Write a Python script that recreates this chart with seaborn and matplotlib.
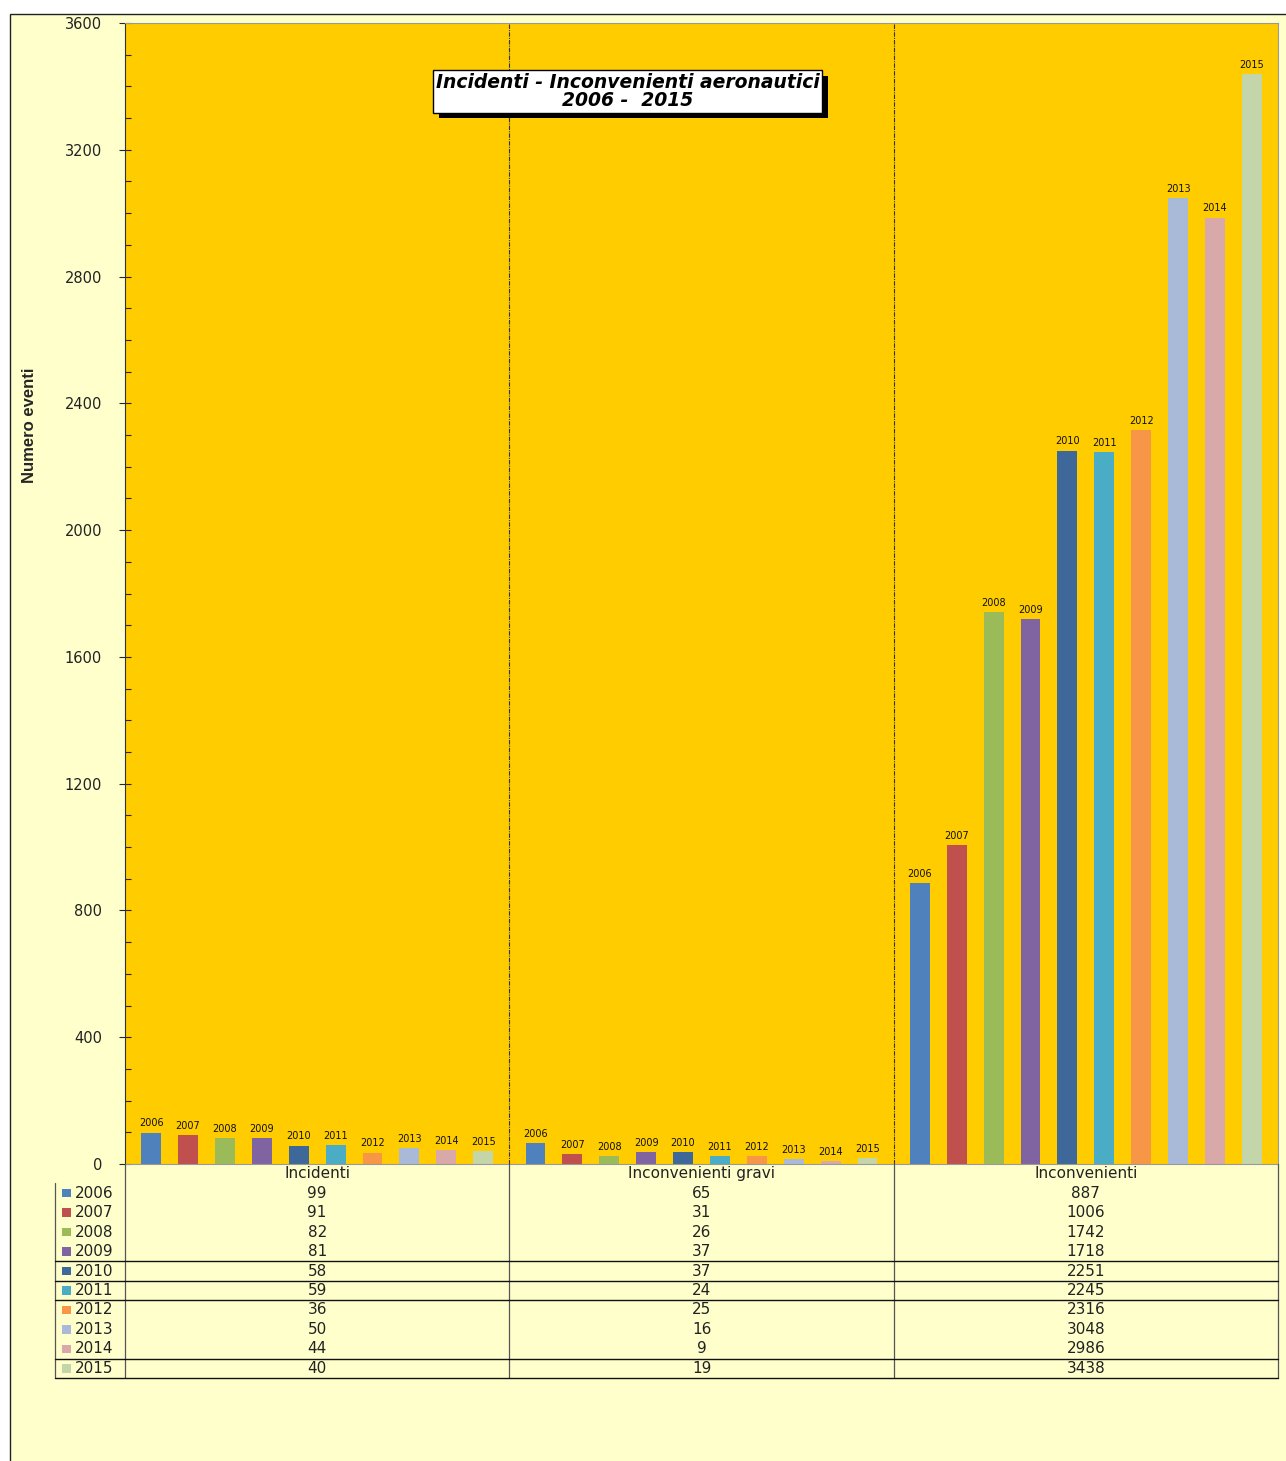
import numpy as np
import pandas as pd
import seaborn as sns
import matplotlib.pyplot as plt
import matplotlib.patheffects as pe
from matplotlib.ticker import MultipleLocator
from matplotlib.patches import Rectangle

# dati
categorie = ['Incidenti', 'Inconvenienti gravi', 'Inconvenienti']
anni = ['2006', '2007', '2008', '2009', '2010', '2011', '2012', '2013', '2014', '2015']
incidenti = [99, 91, 82, 81, 58, 59, 36, 50, 44, 40]
inconvenienti_gravi = [65, 31, 26, 37, 37, 24, 25, 16, 9, 19]
inconvenienti = [887, 1006, 1742, 1718, 2251, 2245, 2316, 3048, 2986, 3438]
colori = ['#4F81BD', '#C0504D', '#9BBB59', '#8064A2', '#3E6899',
          '#4BACC6', '#F79646', '#A9BAD8', '#D9A8A8', '#C4D5A9']

serie = {'Incidenti': incidenti, 'Inconvenienti gravi': inconvenienti_gravi,
         'Inconvenienti': inconvenienti}
righe = []
for cat in categorie:
    for anno, v in zip(anni, serie[cat]):
        righe.append({'categoria': cat, 'anno': anno, 'valore': v})
df = pd.DataFrame(righe)

sns.set_style('white')
plt.rcParams['font.family'] = ['DejaVu Sans']

W, H = 1286, 1461
fig = plt.figure(figsize=(W / 100, H / 100), dpi=100, facecolor='white')

# cornice esterna (sotto a tutto)
fig.patches.append(Rectangle((10 / W, -0.01), 1.0, 1 - 14 / H + 0.01,
                             transform=fig.transFigure, facecolor='#FFFFCC',
                             edgecolor='#222222', lw=1.0, zorder=-10))

ax = fig.add_axes([125 / W, 1 - 1164 / H, 1153 / W, 1141 / H])
ax.set_facecolor('#FFCC00')
sns.barplot(data=df, x='categoria', y='valore', hue='anno', order=categorie,
            hue_order=anni, palette=colori, width=0.96, gap=0.46,
            saturation=1, linewidth=0, legend=False, ax=ax)

# etichette anni sopra le barre
for anno, cont in zip(anni, ax.containers):
    ax.bar_label(cont, labels=[anno] * len(categorie), fontsize=7,
                 padding=3, color='#111111')

ax.set_xlim(-0.5, 2.5)
ax.set_ylim(0, 3600)
ax.yaxis.set_major_locator(MultipleLocator(400))
ax.yaxis.set_minor_locator(MultipleLocator(100))
ax.tick_params(axis='y', which='major', direction='inout', length=9,
               width=0.8, labelsize=10.5, pad=12, left=True,
               labelcolor='#222222')
ax.tick_params(axis='y', which='minor', direction='in', length=4,
               width=0.8, left=True)
ax.set_xticks([])
ax.set_xlabel('')
ax.set_ylabel('')
for s in ['top', 'right', 'bottom']:
    ax.spines[s].set_color('#999999')
    ax.spines[s].set_linewidth(0.8)
ax.spines['left'].set_color('#333333')
ax.spines['left'].set_linewidth(0.8)
ax.spines['left'].set_linestyle((0, (4, 1, 1, 1)))

# separatori tra i gruppi
for xv in [0.5, 1.5]:
    ax.axvline(xv, color='#333333', lw=0.8, ls=(0, (4, 1, 1, 1)), zorder=0.5)

# titolo con ombra
titolo = ax.text(0.436, 0.940,
                 'Incidenti - Inconvenienti aeronautici\n2006 -  2015',
                 transform=ax.transAxes, ha='center', va='center',
                 fontsize=13.5, fontweight='bold', fontstyle='italic',
                 color='black', linespacing=0.95,
                 bbox=dict(boxstyle='square,pad=0.15', fc='white',
                           ec='black', lw=1))
titolo.get_bbox_patch().set_path_effects([
    pe.SimplePatchShadow(offset=(4, -4), shadow_rgbFace='black', alpha=1),
    pe.Normal()])

fig.text(30 / W, 1 - 425 / H, 'Numero eventi', rotation=90, ha='center',
         va='center', fontsize=12, fontweight='bold',
         family=['Liberation Sans Narrow', 'Liberation Sans', 'DejaVu Sans'])

# tabella dati sotto il grafico
unit = 1153 / 3
xl = -0.5 - 70 / unit
tax = fig.add_axes([55 / W, 1 - 1378 / H, (1278 - 55) / W, 214 / H])
tax.set_xlim(xl, 2.5)
tax.set_ylim(11, 0)
tax.axis('off')

for j, cat in enumerate(categorie):
    tax.text(j, 0.5, cat, ha='center', va='center', fontsize=11,
             color='#222222')
    for i, v in enumerate(serie[cat]):
        tax.text(j, i + 1.5, str(v), ha='center', va='center', fontsize=11,
                 color='#222222')

for i, (anno, c) in enumerate(zip(anni, colori)):
    tax.add_patch(Rectangle((-0.5 - 63 / unit, i + 1.28), 9 / unit, 0.44,
                            facecolor=c, edgecolor='none'))
    tax.text(-0.5 - 50 / unit, i + 1.5, anno, ha='left', va='center',
             fontsize=11, color='#222222')

# linee della tabella
for xv in [-0.5, 0.5, 1.5, 2.5]:
    tax.plot([xv, xv], [0, 11], color='#555555', lw=0.9, clip_on=False)
tax.plot([xl, xl], [1, 11], color='#555555', lw=0.9, clip_on=False)
for yv in [5, 6, 7, 10, 11]:
    tax.plot([xl, 2.5], [yv, yv], color='#111111', lw=1.0, clip_on=False)

fig.savefig('out.png', dpi=100, facecolor=fig.get_facecolor())
